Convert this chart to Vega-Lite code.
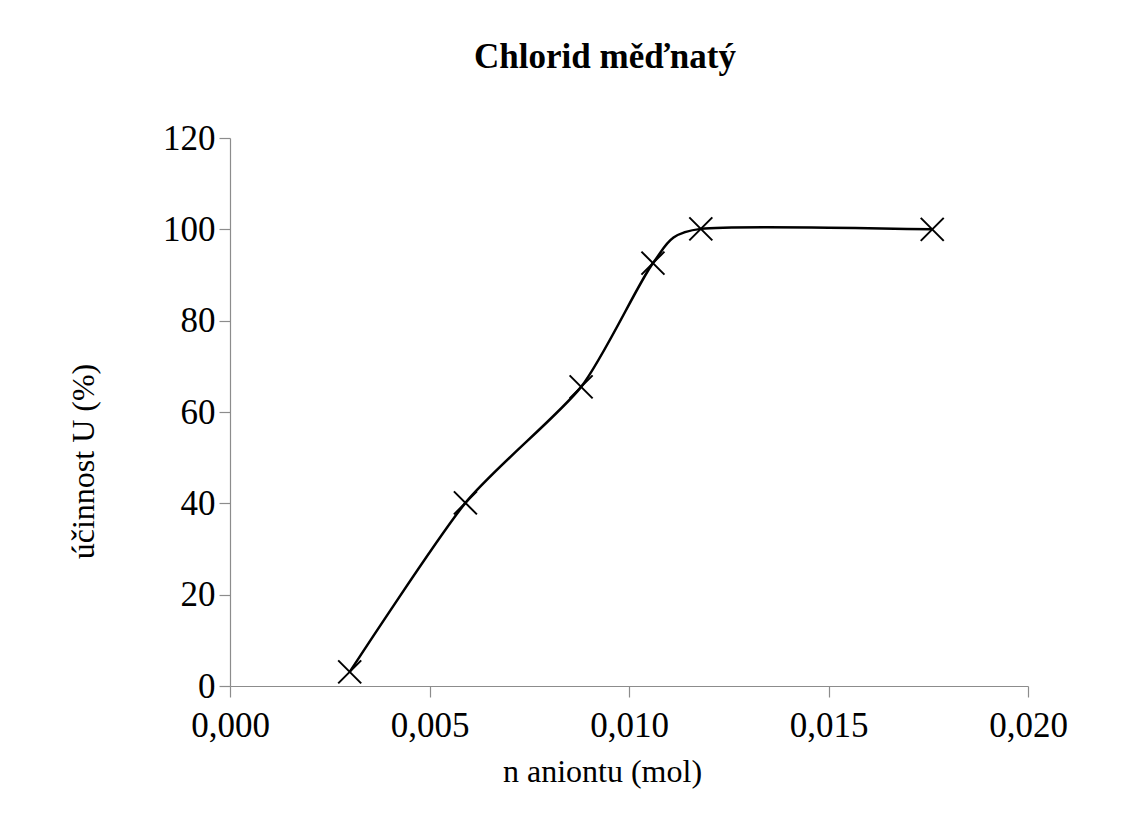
{
  "$schema": "https://vega.github.io/schema/vega-lite/v6.json",
  "autosize": "none",
  "width": 798,
  "height": 548,
  "padding": {"left": 230, "top": 138, "right": 95, "bottom": 133},
  "background": "white",
  "config": {
    "locale": {"number": {"decimal": ",", "thousands": " ", "grouping": [3], "currency": ["", " Kč"]}},
    "view": {"stroke": null},
    "font": "Liberation Serif",
    "axis": {
      "grid": false,
      "labelFlush": false,
      "domainColor": "#8c8c8c",
      "tickColor": "#8c8c8c",
      "domainWidth": 1.2,
      "tickWidth": 1.2,
      "tickSize": 11,
      "labelFont": "Liberation Serif",
      "labelFontSize": 35,
      "labelColor": "black",
      "titleFont": "Liberation Serif",
      "titleFontSize": 32,
      "titleFontWeight": "normal",
      "titleColor": "black"
    }
  },
  "title": {
    "text": "Chlorid měďnatý",
    "font": "Liberation Serif",
    "fontSize": 35,
    "fontWeight": "bold",
    "color": "black",
    "anchor": "middle",
    "dx": -24,
    "offset": 46
  },
  "data": {
    "values": [
      {"n": 0.0030, "U": 3.1},
      {"n": 0.0059, "U": 40.1},
      {"n": 0.0088, "U": 65.5},
      {"n": 0.0106, "U": 92.6},
      {"n": 0.0118, "U": 100.1},
      {"n": 0.0176, "U": 100.0}
    ]
  },
  "layer": [
    {
      "mark": {"type": "line", "interpolate": "cardinal", "tension": 0.3, "color": "black", "strokeWidth": 2.5},
      "encoding": {
        "x": {
          "field": "n", "type": "quantitative",
          "scale": {"domain": [0, 0.02], "nice": false, "zero": false},
          "axis": {"values": [0, 0.005, 0.01, 0.015, 0.02], "format": ".3f", "title": "n aniontu (mol)", "labelPadding": 11, "titleX": 372, "titleY": 70, "titleBaseline": "top"}
        },
        "y": {
          "field": "U", "type": "quantitative",
          "scale": {"domain": [0, 120], "nice": false},
          "axis": {"values": [0, 20, 40, 60, 80, 100, 120], "title": "účinnost U (%)", "labelPadding": 4, "titleY": 323, "titleX": -130}
        }
      }
    },
    {
      "mark": {"type": "point", "shape": "M -1 -1 L 1 1 M -1 1 L 1 -1", "filled": false, "stroke": "black", "strokeWidth": 2, "size": 529, "opacity": 1},
      "encoding": {
        "x": {"field": "n", "type": "quantitative"},
        "y": {"field": "U", "type": "quantitative"}
      }
    }
  ]
}
